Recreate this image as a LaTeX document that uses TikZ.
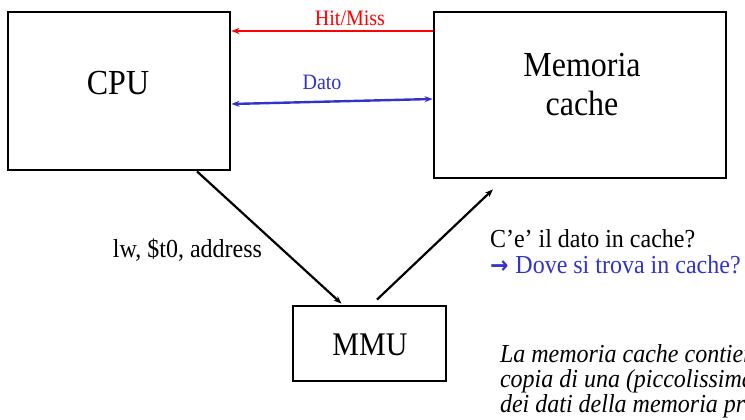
\documentclass[tikz,border=0pt]{standalone}
\usepackage{fontspec}
\setmainfont{Liberation Serif}
\newfontfamily\arrowfont{DejaVu Sans}
\usetikzlibrary{arrows.meta,calc}
\definecolor{hitred}{RGB}{255,0,0}
\definecolor{datoblue}{RGB}{51,51,204}
\tikzset{
  box/.style={draw=black, line width=2.8pt, minimum width=#1, inner sep=0pt},
  txt/.style={inner sep=0pt, outer sep=0pt},
  conn/.style={line width=2.2pt, -{Stealth[length=8pt,width=6pt]}},
}
\begin{document}
\begin{tikzpicture}[x=1pt,y=-1pt]
\useasboundingbox (0,0) rectangle (745,420);
\clip (0,0) rectangle (745,420);
% boxes
\node[box=222pt, minimum height=158pt] (cpu) at (119,91) {};
\node[box=292pt, minimum height=166pt] (cache) at (580,95) {};
\node[box=153pt, minimum height=75pt] (mmu) at (369.5,343.5) {};
% box texts
\node[txt, font=\fontsize{32}{38}\selectfont] (cputxt) at (118,83) {\scalebox{1}[1.1]{CPU}};
\node[txt, font=\fontsize{32}{38}\selectfont] (cachetxt1) at (582,65) {\scalebox{1}[1.1]{Memoria}};
\node[txt, font=\fontsize{32}{38}\selectfont] (cachetxt2) at (582,103) {\scalebox{1}[1.1]{cache}};
\node[txt, font=\fontsize{30}{36}\selectfont] (mmutxt) at (370,345) {\scalebox{1}[1.1]{MMU}};
% arrows between CPU and cache
\draw[line width=2.4pt, draw=hitred, -{Stealth[length=8pt,width=6pt]}] (cache.west |- 0,31) -- (cpu.east |- 0,31);
\draw[line width=2.4pt, draw=datoblue, {Stealth[length=8pt,width=6pt]}-{Stealth[length=8pt,width=6pt]}] (cpu.east |- 0,104) -- (cache.west |- 0,99);
\node[txt, anchor=base, text=hitred, font=\fontsize{20}{24}\selectfont] (hm) at (350,26) {\scalebox{1}[1.1]{Hit/Miss}};
\node[txt, anchor=base, text=datoblue, font=\fontsize{20}{24}\selectfont] (dato) at (322,90) {\scalebox{1}[1.1]{Dato}};
% arrows through MMU
\draw[conn] ($(cpu.south)+(78,0)$) -- ($(mmu.north)+(-28,-1)$);
\draw[conn] ($(mmu.north)+(7.5,-5)$) -- ($(cache.south)+(-87,10)$);
\node[txt, font=\fontsize{24}{28}\selectfont] (lw) at (187.5,250) {\scalebox{1}[1.08]{lw, \$t0, address}};
% question text
\node[txt, anchor=base west, font=\fontsize{24}{28}\selectfont] (q1) at (490,247) {\scalebox{1}[1.08]{C’e’ il dato in cache?}};
\node[txt, anchor=base west, text=datoblue, font=\fontsize{24}{28}\selectfont] (q2) at (490,273) {\scalebox{1}[1.08]{{\arrowfont\bfseries\fontsize{22}{26}\selectfont →}\hspace{7pt}Dove si trova in cache?}};
% italic note (cut off at the right edge, as in the reference)
\node[txt, anchor=base west, font=\fontsize{24}{28}\selectfont\itshape] (n1) at (500,362) {\scalebox{1}[1.08]{La memoria cache contiene una}};
\node[txt, anchor=base west, font=\fontsize{24}{28}\selectfont\itshape] (n2) at (500,387) {\scalebox{1}[1.08]{copia di una (piccolissima) parte}};
\node[txt, anchor=base west, font=\fontsize{24}{28}\selectfont\itshape] (n3) at (500,412) {\scalebox{1}[1.08]{dei dati della memoria principale}};
\end{tikzpicture}
\end{document}
